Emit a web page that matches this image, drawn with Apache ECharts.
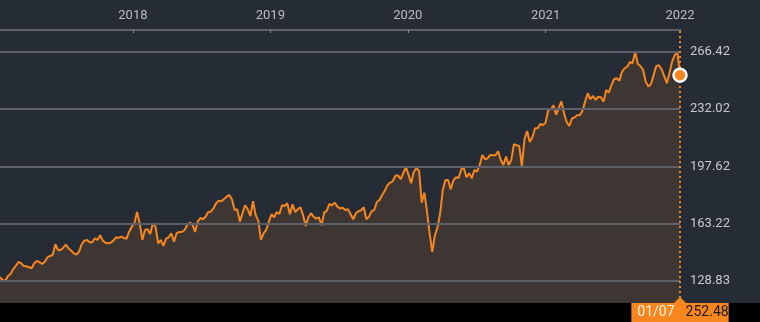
<!DOCTYPE html>
<html><head><meta charset="utf-8">
<script src="https://cdn.jsdelivr.net/npm/echarts@6/dist/echarts.min.js"></script>
<style>html,body{margin:0;padding:0;background:#262c36;}#c{width:760px;height:322px;}</style>
</head><body><div id="c"></div>
<script>
// Weekly closes, first week ending 2017-01-13, last 2022-01-07
const startDate = [2017, 0, 13];
const values = [
131.05,129.43,128.83,131.84,133.04,135.86,137.84,140.25,139.47,137.84,
137.66,137.06,136.46,139.47,140.85,140.07,139.05,140.43,143.07,143.85,
144.45,150.88,147.46,147.46,148.84,150.64,148.48,147.04,145.47,144.63,
146.44,150.88,153.05,153.47,152.08,152.08,154.49,153.47,156.29,153.05,
151.84,151.48,151.84,153.05,155.09,154.67,155.45,154.67,154.25,158.45,
161.46,163.50,170.29,163.50,153.47,159.47,159.89,157.07,163.50,161.46,
151.48,153.47,149.86,154.25,155.09,157.49,152.44,157.49,158.27,158.27,
159.47,162.30,163.86,162.90,158.27,164.46,166.68,165.90,167.46,170.29,
170.47,172.51,175.52,177.08,176.72,178.10,179.48,180.50,177.92,171.49,
171.91,164.46,169.51,174.31,171.91,167.89,176.72,168.49,165.06,153.47,
157.49,159.47,164.46,168.91,167.10,170.29,169.09,174.31,173.89,175.52,
168.91,174.92,170.29,171.91,173.11,168.31,161.88,167.10,169.51,167.46,
166.26,167.10,162.30,169.87,171.07,175.10,174.31,175.88,173.47,172.39,
172.87,171.49,171.91,169.09,165.90,169.51,170.71,171.31,173.11,165.90,
167.46,170.71,171.49,176.30,177.50,180.50,183.09,186.33,187.89,188.73,
191.92,192.34,189.94,193.54,197.15,192.70,187.53,194.32,196.55,195.10,
175.88,181.88,170.71,157.49,146.26,156.29,161.10,169.51,183.51,189.52,
189.52,183.93,189.09,191.14,190.72,195.94,196.55,191.14,193.54,190.54,
195.52,194.50,198.53,204.54,201.95,202.55,204.54,204.36,204.36,206.76,
201.53,198.53,203.51,198.53,201.53,210.96,210.36,209.94,197.93,213.97,
218.96,212.35,215.17,220.58,220.58,223.16,222.56,223.94,231.57,231.99,
234.40,228.75,232.77,236.80,229.59,224.36,221.96,226.35,227.19,228.39,
228.57,231.15,236.56,241.61,238.00,239.98,237.58,239.56,239.20,236.56,
243.59,241.97,246.59,250.02,250.62,249.18,254.58,256.63,257.59,260.41,
259.63,266.42,259.21,258.01,255.61,248.58,245.57,247.19,252.60,258.01,
258.43,256.03,252.00,247.61,253.62,260.59,264.44,266.42,252.48
];
const gridValues = [128.83, 163.22, 197.62, 232.02, 266.42];
const lastDateLabel = '01/07';
const yMin = 115.6, yMax = 279.6;

const ORANGE = '#f7861e';
const DAY = 86400000;
const WEEK = 7 * DAY;
const t0 = new Date(startDate[0], startDate[1], startDate[2]).getTime();
const dates = values.map((v, i) => t0 + i * WEEK);
const seriesData = dates.map((d, i) => [d, values[i]]);
const lastTs = dates[dates.length - 1];
const lastVal = values[values.length - 1];

const chart = echarts.init(document.getElementById('c'));
chart.setOption({
  backgroundColor: '#262c36',
  animation: false,
  textStyle: { fontFamily: 'Roboto' },
  grid: { left: 0, right: 80, top: 30, bottom: 19 },
  graphic: [{ type: 'rect', left: 0, bottom: 0, silent: true, z: 0,
    shape: { width: 760, height: 19 }, style: { fill: '#000' } }],
  xAxis: {
    type: 'time', position: 'top', min: dates[0], max: lastTs,
    minInterval: 365 * DAY,
    axisLine: { lineStyle: { color: '#5c6169', width: 2 } },
    axisTick: { inside: true, length: 3, lineStyle: { color: '#8a8e94', width: 1 } },
    axisLabel: { formatter: v => String(new Date(v + 182 * DAY).getFullYear()),
      color: '#b9bdc3', fontSize: 13, margin: 8,
      showMinLabel: false, showMaxLabel: true, hideOverlap: false },
    splitLine: { show: false }
  },
  yAxis: {
    type: 'value', position: 'right', min: yMin, max: yMax, show: false,
    splitLine: { show: false }
  },
  series: [{
    type: 'line', data: seriesData, showSymbol: false, z: 1,
    lineStyle: { opacity: 0 }, silent: true,
    markLine: {
      silent: true, symbol: ['none', 'none'],
      lineStyle: { color: '#5c6169', width: 2, type: 'solid' },
      label: { position: 'end', distance: 10, color: '#c6cad0', fontSize: 13,
        fontFamily: 'Roboto', formatter: p => Number(p.value).toFixed(2) },
      emphasis: { disabled: true },
      data: gridValues.map(v => ({ yAxis: v }))
    }
  }, {
    type: 'line', data: seriesData, showSymbol: false, z: 3,
    lineStyle: { color: ORANGE, width: 2 },
    areaStyle: { color: 'rgba(247,134,30,0.16)', origin: 'start' },
    markLine: {
      silent: true, symbol: ['none', 'none'],
      lineStyle: { color: ORANGE, width: 2, type: [2, 3] },
      label: { show: false }, emphasis: { disabled: true },
      data: [{ xAxis: lastTs }]
    }
  }, {
    type: 'scatter', z: 5, data: [[lastTs, lastVal]],
    symbolSize: 13, itemStyle: { color: ORANGE, borderColor: '#ffffff', borderWidth: 2.5, opacity: 1 },
    markPoint: {
      silent: true,
      data: [{ coord: [lastTs, yMin], symbol: 'triangle', symbolSize: [12, 6],
        symbolOffset: [0, -3], itemStyle: { color: ORANGE },
        label: {
          show: true, position: 'bottom', distance: 0,
          backgroundColor: ORANGE, padding: [2, 0, 2, 6],
          formatter: () => '{a|' + lastDateLabel + '}{b|' + lastVal.toFixed(2) + '}',
          rich: {
            a: { color: '#fff3e6', fontSize: 14, fontFamily: 'Roboto', lineHeight: 15 },
            b: { color: '#1a1a1a', fontSize: 14, fontFamily: 'Roboto', lineHeight: 15, padding: [0, 0, 0, 11] }
          }
        } }]
    }
  }]
});
</script></body></html>
